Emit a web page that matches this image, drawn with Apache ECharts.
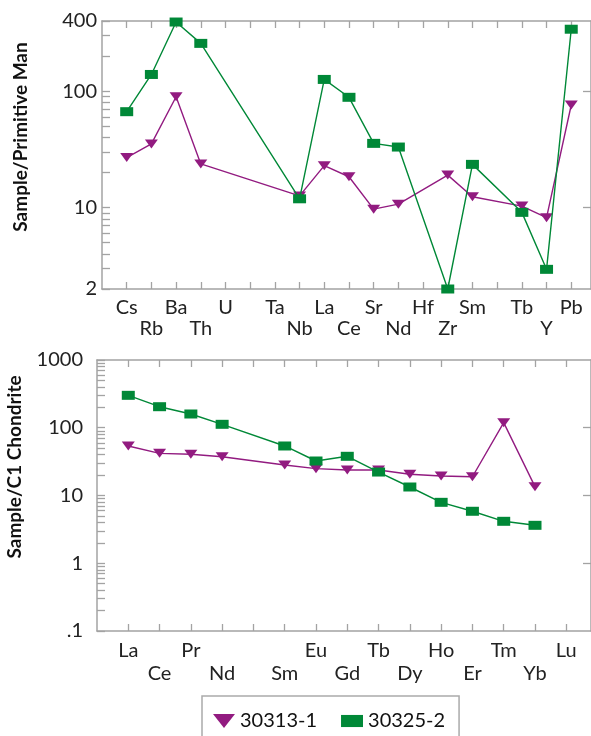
<!DOCTYPE html>
<html>
<head>
    <meta charset="UTF-8">
    <title>Spider diagrams</title>
    <script src="https://cdn.jsdelivr.net/npm/echarts@6/dist/echarts.min.js"></script>
    <style>
        html, body { margin: 0; padding: 0; background: #fff; }
        #chart { width: 591px; height: 736px; }
    </style>
</head>
<body>
<div id="chart"></div>
<script>
    // primitive mantle normalised (top panel)
    var pmElements = ['Cs', 'Rb', 'Ba', 'Th', 'U', '', 'Ta', 'Nb', 'La', 'Ce', 'Sr', 'Nd', 'Hf', 'Zr', 'Sm', '', 'Tb', 'Y', 'Pb'];
    var pmSampleA = [26.9, 35.2, 89.5, 23.7, null, null, null, 12.6, 22.9, 18.4, 9.7, 10.7, null, 19.0, 12.4, null, 10.3, 8.2, 76];
    var pmSampleB = [66.6, 139, 392, 257, null, null, null, 11.9, 126, 88.5, 35.6, 33.1, null, 2.0, 23.5, null, 9.1, 2.95, 340];
    var pmTickLabels = [2, 10, 100, 400];

    // C1 chondrite normalised (bottom panel)
    var reeElements = ['La', 'Ce', 'Pr', 'Nd', '', 'Sm', 'Eu', 'Gd', 'Tb', 'Dy', 'Ho', 'Er', 'Tm', 'Yb', 'Lu'];
    var reeSampleA = [53.8, 41.9, 40.6, 37.4, null, 28.2, 24.9, 23.8, 23.8, 20.6, 19.4, 18.9, 118.8, 13.5, null];
    var reeSampleB = [301, 204.5, 159.6, 112.4, null, 53.8, 32.3, 37.9, 22.2, 13.35, 7.93, 5.85, 4.16, 3.63, null];
    var reeTickLabels = [0.1, 1, 10, 100, 1000];

    var nameA = '30313-1', nameB = '30325-2';
    var purple = '#921b80', green = '#008837';
    var axisGrey = '#a3a3a3';
    var font = 'Lato';

    function toPoints(values) {
        var out = [];
        for (var i = 0; i < values.length; i++) {
            if (values[i] != null) out.push([i, values[i]]);
        }
        return out;
    }

    function range(n) {
        var out = [];
        for (var i = 0; i < n; i++) out.push(i);
        return out;
    }

    // 1..9 x each decade between lo and hi
    function logTicks(lo, hi) {
        var out = [];
        for (var d = Math.pow(10, Math.floor(Math.log10(lo))); d <= hi; d *= 10) {
            for (var k = 1; k < 10; k++) {
                var v = +(k * d).toPrecision(6);
                if (v >= lo - 1e-9 && v <= hi + 1e-9) out.push(v);
            }
        }
        return out;
    }

    var axisLine = { show: true, onZero: false, lineStyle: { color: axisGrey, width: 1.5 } };

    function bottomAxis(grid, names, max, lineHeight) {
        return {
            type: 'value', gridIndex: grid, min: -1, max: max, position: 'bottom',
            axisLine: axisLine,
            axisTick: { show: true, inside: true, length: 7, customValues: range(names.length), lineStyle: { color: axisGrey, width: 1.3 } },
            axisLabel: {
                customValues: range(names.length), margin: 8,
                fontFamily: font, fontSize: 20, color: '#222', lineHeight: lineHeight,
                formatter: function (v) {
                    var n = names[Math.round(v)] || '';
                    return Math.round(v) % 2 === 0 ? n : '\n' + n;
                }
            },
            splitLine: { show: false }
        };
    }

    function topAxis(grid, names, max) {
        return {
            type: 'value', gridIndex: grid, min: -1, max: max, position: 'top',
            axisLine: axisLine,
            axisTick: { show: true, inside: true, length: 7, customValues: range(names.length), lineStyle: { color: axisGrey, width: 1.3 } },
            axisLabel: { show: false },
            splitLine: { show: false }
        };
    }

    function leftLog(grid, lo, hi, labels, margin) {
        return {
            type: 'log', logBase: 10, gridIndex: grid, min: lo, max: hi, position: 'left',
            axisLine: axisLine,
            axisTick: { show: true, inside: true, length: 8, customValues: logTicks(lo, hi), lineStyle: { color: axisGrey, width: 1.3 } },
            axisLabel: {
                customValues: labels, margin: margin,
                fontFamily: font, fontSize: 20, color: '#222',
                formatter: function (v) { return v === 0.1 ? '.1' : String(v); }
            },
            splitLine: { show: false }
        };
    }

    function rightLog(grid, lo, hi, majors) {
        return {
            type: 'log', logBase: 10, gridIndex: grid, min: lo, max: hi, position: 'right',
            axisLine: axisLine,
            axisTick: { show: true, inside: true, length: 8, customValues: majors, lineStyle: { color: axisGrey, width: 1.3 } },
            axisLabel: { show: false },
            splitLine: { show: false }
        };
    }

    var triangleDown = 'path://M0,0 L12,0 L6,8 Z';

    function seriesA(x, y, values) {
        return {
            name: nameA, type: 'line', xAxisIndex: x, yAxisIndex: y,
            data: toPoints(values),
            symbol: triangleDown, symbolSize: [13, 9],
            lineStyle: { color: purple, width: 1.4 },
            itemStyle: { color: purple },
            z: 3
        };
    }

    function seriesB(x, y, values) {
        return {
            name: nameB, type: 'line', xAxisIndex: x, yAxisIndex: y,
            data: toPoints(values),
            symbol: 'rect', symbolSize: [13, 9],
            lineStyle: { color: green, width: 1.4 },
            itemStyle: { color: green },
            z: 4
        };
    }

    var myChart = echarts.init(document.getElementById('chart'), null, { renderer: 'canvas' });

    var option = {
        animation: false,
        backgroundColor: '#fff',
        grid: [
            { left: 102, top: 21, width: 495, height: 268 },
            { left: 97, top: 360, width: 500, height: 271 }
        ],
        xAxis: [
            bottomAxis(0, pmElements, 18.8, 21),
            topAxis(0, pmElements, 18.8),
            bottomAxis(1, reeElements, 14.79, 23),
            topAxis(1, reeElements, 14.79)
        ],
        yAxis: [
            leftLog(0, 2, 400, pmTickLabels, 5),
            rightLog(0, 2, 400, [10, 100]),
            leftLog(1, 0.1, 1000, reeTickLabels, 14),
            rightLog(1, 0.1, 1000, [1, 10, 100])
        ],
        legend: {
            left: 202, top: 696,
            orient: 'horizontal',
            borderColor: '#aaa', borderWidth: 1.5,
            padding: [15, 14, 30, 11],
            itemGap: 24, itemWidth: 22, itemHeight: 14,
            textStyle: { fontFamily: font, fontSize: 20, color: '#111' },
            data: [
                { name: nameA, icon: 'path://M0,0 L22,0 L11,14 Z' },
                { name: nameB, icon: 'path://M0,0 H20 V11 H0 Z' }
            ]
        },
        graphic: [
            {
                type: 'text', x: 21, y: 137, rotation: Math.PI / 2,
                style: { text: 'Sample/Primitive Man', font: 'bold 19px Lato', fill: '#111', align: 'center', verticalAlign: 'middle' }
            },
            {
                type: 'text', x: 15, y: 467, rotation: Math.PI / 2,
                style: { text: 'Sample/C1 Chondrite', font: 'bold 19px Lato', fill: '#111', align: 'center', verticalAlign: 'middle' }
            }
        ],
        series: [
            seriesA(0, 0, pmSampleA),
            seriesB(0, 0, pmSampleB),
            seriesA(2, 2, reeSampleA),
            seriesB(2, 2, reeSampleB)
        ]
    };

    myChart.setOption(option);
</script>
</body>
</html>
